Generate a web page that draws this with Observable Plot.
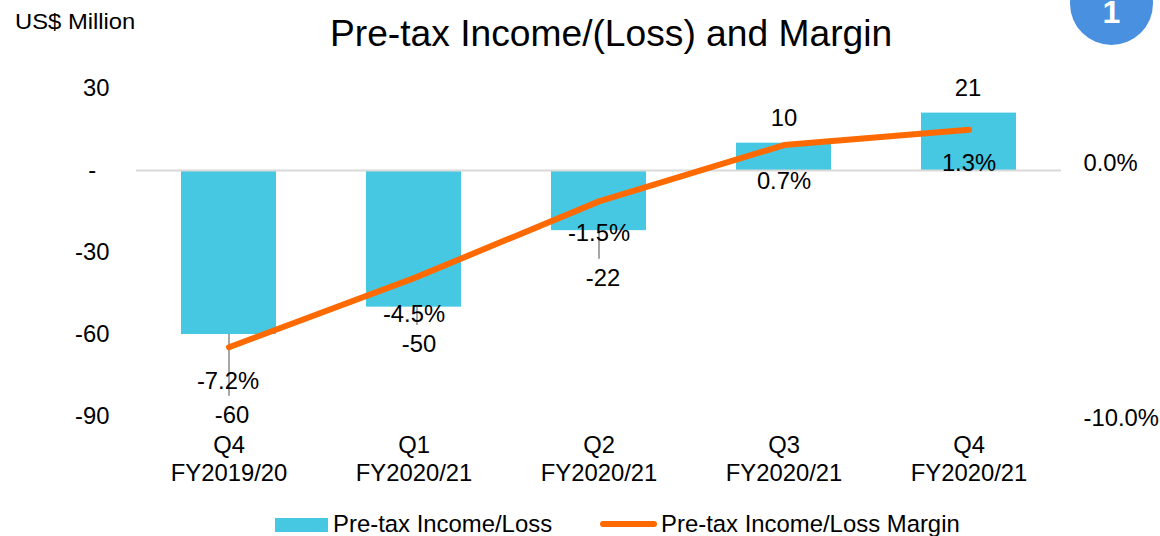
<!DOCTYPE html>
<html>
<head>
<meta charset="utf-8">
<script src="https://cdn.jsdelivr.net/npm/d3@7"></script>
<script src="https://cdn.jsdelivr.net/npm/@observablehq/plot@0.6"></script>
<style>
  html, body { margin: 0; padding: 0; background: #fff; overflow: hidden; }
  #page { position: relative; width: 1160px; height: 536px; overflow: hidden; font-family: "Liberation Sans", Arial, sans-serif; color: #000; }
  #page svg { position: absolute; left: 0; top: 0; }
  .abs { position: absolute; white-space: nowrap; line-height: 1; }
  #title { left: 330px; top: 15px; font-size: 37.2px; }
  #unit { left: 15px; top: 10px; font-size: 23.8px; transform: scaleY(.92); transform-origin: left center; }
  #badge { left: 1070px; top: -38px; width: 83px; height: 83px; border-radius: 50%; background: #4A90E0; }
  #badgeNum { left: 1070px; width: 83px; top: 0; line-height: 24px; text-align: center; color: #fff; font-size: 32px; font-weight: bold; }
  #swatchBar { left: 275px; top: 518px; width: 53px; height: 14px; background: #47C8E2; }
  #swatchLine { left: 600px; top: 521px; width: 57px; height: 6px; border-radius: 3px; background: #FF6A00; }
  .legendText { top: 512px; height: 23px; line-height: 23px; font-size: 23.9px; }
</style>
</head>
<body>
<div id="page">
  <div id="chart"></div>
  <div class="abs" id="title">Pre-tax Income/(Loss) and Margin</div>
  <div class="abs" id="unit">US$ Million</div>
  <div class="abs" id="badge"></div>
  <div class="abs" id="badgeNum">1</div>
  <div class="abs" id="swatchBar"></div>
  <div class="abs legendText" style="left:333px">Pre-tax Income/Loss</div>
  <div class="abs" id="swatchLine"></div>
  <div class="abs legendText" style="left:661px">Pre-tax Income/Loss Margin</div>
</div>
<script>
const quarters = ["Q4", "Q1", "Q2", "Q3", "Q4"];
const fiscalYears = ["FY2019/20", "FY2020/21", "FY2020/21", "FY2020/21", "FY2020/21"];
const income = [-60, -50, -22, 10, 21];
const margin = [-7.2, -4.5, -1.5, 0.7, 1.3];
const leftTicks = [30, 0, -30, -60, -90];
const rightTicks = [0, -10];
const leaderEnds = [-82.6, -56.7, -32.5];

// layout offsets for the hand-placed data labels (px)
const valueOffsets = [[3, 81], [5, 37], [4, 48], [0, -25], [-1, -25]];
const marginOffsets = [[-1, 34], [0, 36], [0, 32], [0, 36], [0, 34]];
const leaderDx = [0, 3, 0];

const font = "Liberation Sans, Arial, sans-serif";
const fontSize = 23.8;
const categories = quarters.map((q, i) => `${q}\n${fiscalYears[i]}`);

// secondary (margin %) axis expressed in primary axis units
const marginToAxis = (m) => 2.74 + 9.36 * m;
const axisToMargin = (v) => (v - 2.74) / 9.36;

const barRows = categories.map((c, i) => ({c, v: income[i]}));
const lineRows = categories.map((c, i) => ({c, m: margin[i], y: marginToAxis(margin[i])}));

const chart = Plot.plot({
  width: 1160,
  height: 536,
  marginLeft: 136,
  marginRight: 99,
  marginTop: 88,
  marginBottom: 120,
  style: {fontFamily: font, fontSize: fontSize + "px", color: "#000", background: "transparent", overflow: "visible"},
  x: {domain: categories, paddingInner: 0.484, paddingOuter: 0.242, label: null},
  y: {domain: [-90, 30], label: null},
  marks: [
    Plot.barY(barRows, {x: "c", y: "v", fill: "#47C8E2"}),
    Plot.ruleY([0], {stroke: "#d9d9d9", strokeWidth: 2}),
    ...leaderEnds.map((end, i) => Plot.ruleX([barRows[i]], {
      x: "c", y1: "v", y2: () => end, stroke: "#a6a6a6", strokeWidth: 2, dx: leaderDx[i]
    })),
    Plot.line(lineRows, {x: "c", y: "y", stroke: "#FF6A00", strokeWidth: 6, strokeLinecap: "round", strokeLinejoin: "round"}),
    ...barRows.map((r, i) => Plot.text([r], {
      x: "c", y: "v", text: (d) => String(d.v), dx: valueOffsets[i][0], dy: valueOffsets[i][1],
      fontSize, fill: "#000"
    })),
    ...lineRows.map((r, i) => Plot.text([r], {
      x: "c", y: "y", text: (d) => d.m.toFixed(1) + "%", dx: marginOffsets[i][0], dy: marginOffsets[i][1],
      fontSize, fill: "#000"
    })),
    Plot.axisY({
      anchor: "left", ticks: leftTicks, tickSize: 0, tickPadding: 27, fontSize, fill: "#000", label: null,
      tickFormat: (v) => v === 0 ? "-\u00a0\u00a0" : String(v)
    }),
    Plot.axisY({
      anchor: "right", ticks: rightTicks.map(marginToAxis), tickSize: 0, tickPadding: 22, fontSize, fill: "#000", label: null,
      tickFormat: (v) => axisToMargin(v).toFixed(1) + "%"
    }),
    Plot.axisX({
      anchor: "bottom", tickSize: 0, tickPadding: 16, fontSize, fill: "#000", label: null, lineHeight: 1.2,
      tickFormat: (d) => d
    })
  ]
});
document.getElementById("chart").append(chart);
</script>
</body>
</html>
